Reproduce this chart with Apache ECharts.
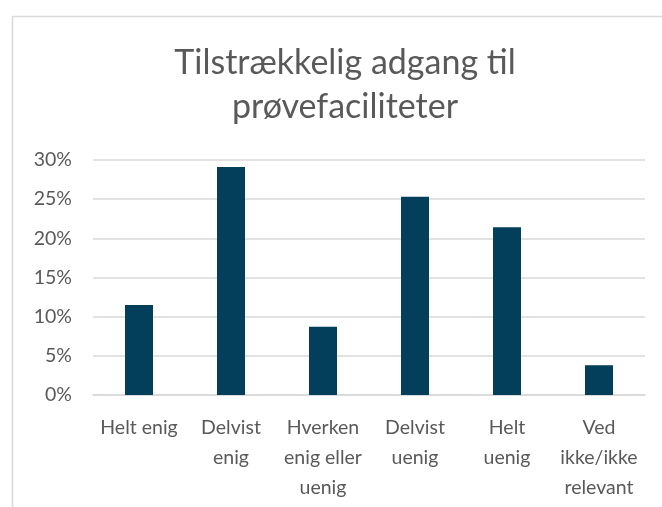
<!DOCTYPE html>
<html>
<head>
<meta charset="utf-8">
<script src="https://cdn.jsdelivr.net/npm/echarts@6/dist/echarts.min.js"></script>
<style>
  html, body { margin: 0; padding: 0; background: #fff; }
  #chart { width: 662px; height: 507px; }
</style>
</head>
<body>
<div id="chart"></div>
<script>
// Answer categories (wrapped as shown under the axis)
const categories = [
  'Helt enig',
  'Delvist\nenig',
  'Hverken\nenig eller\nuenig',
  'Delvist\nuenig',
  'Helt\nuenig',
  'Ved\nikke/ikke\nrelevant'
];
// Share of respondents, percent
const shares = [11.5, 29.1, 8.7, 25.3, 21.4, 3.8];
// Value axis ticks, percent
const yMin = 0, yMax = 30, yStep = 5;

const titleText = 'Tilstrækkelig adgang til\nprøvefaciliteter';
const font = 'Lato, "Liberation Sans", sans-serif';
const textColor = '#595959';

const chart = echarts.init(document.getElementById('chart'), null, { renderer: 'canvas' });
chart.setOption({
  animation: false,
  backgroundColor: '#ffffff',
  graphic: [{
    type: 'rect',
    shape: { x: 12.5, y: 16.5, width: 680, height: 520 },
    style: { fill: 'none', stroke: '#d9d9d9', lineWidth: 1.5 },
    silent: true
  }],
  title: {
    text: titleText,
    left: 340,
    textAlign: 'center',
    top: 36,
    textStyle: {
      fontFamily: font,
      fontSize: 34,
      fontWeight: 'normal',
      color: textColor,
      lineHeight: 44
    }
  },
  grid: { left: 93, right: 17, top: 160, bottom: 112, containLabel: false },
  xAxis: {
    type: 'category',
    data: categories,
    axisLine: { lineStyle: { color: '#d9d9d9', width: 1.5 } },
    axisTick: { show: false },
    axisLabel: {
      interval: 0,
      margin: 18,
      fontFamily: font,
      fontSize: 19.5,
      color: textColor,
      lineHeight: 30,
      verticalAlign: 'top'
    }
  },
  yAxis: {
    type: 'value',
    min: yMin,
    max: yMax,
    interval: yStep,
    axisLine: { show: false },
    axisTick: { show: false },
    splitLine: { lineStyle: { color: '#d9d9d9', width: 1.5 } },
    axisLabel: {
      formatter: '{value}%',
      margin: 21,
      fontFamily: font,
      fontSize: 19.5,
      color: textColor
    }
  },
  series: [{
    type: 'bar',
    data: shares,
    barWidth: 28,
    itemStyle: { color: '#033e5b' }
  }]
});
</script>
</body>
</html>
